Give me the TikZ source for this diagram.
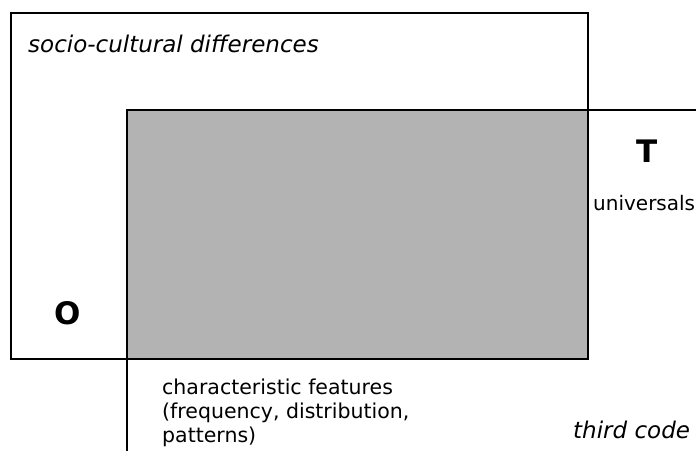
\documentclass[tikz,border=0pt]{standalone}
\usepackage{fontspec}
\setmainfont{DejaVu Sans}
\usetikzlibrary{positioning}
\definecolor{overlapgray}{HTML}{B3B3B3}

\begin{document}
\begin{tikzpicture}[
    x=1pt, y=-1pt,
    boxline/.style={draw=black, line width=2pt},
    tag/.style={inner sep=0pt, anchor=base west},
    bigletter/.style={inner sep=0pt, font=\fontsize{31}{31}\selectfont\bfseries}
]
    \useasboundingbox (0,0) rectangle (696,450);
    \clip (0,0) rectangle (696,450);

    % shared area of both codes
    \fill[overlapgray] (127,110) rectangle (588,359);
    \draw[boxline] (11,13) rectangle (588,359);
    \draw[boxline] (127,110) rectangle (730,490);

    \node[tag, font=\fontsize{23}{28}\selectfont\itshape] (sociocult) at (28,52) {socio-cultural differences};
    \node[bigletter] (origin) at (68,313) {O};
    \node[bigletter] (target) at (647,151) {T};
    \node[tag, font=\fontsize{20}{24}\selectfont] (universals) at (593,210) {universals};
    \node[inner sep=0pt, anchor=north west, align=left, font=\fontsize{20.5}{24}\selectfont]
        (features) at (162,379) {characteristic features\\(frequency, distribution,\\patterns)};
    \node[tag, font=\fontsize{23}{28}\selectfont\itshape] (thirdcode) at (573,438) {third code};
\end{tikzpicture}
\end{document}
